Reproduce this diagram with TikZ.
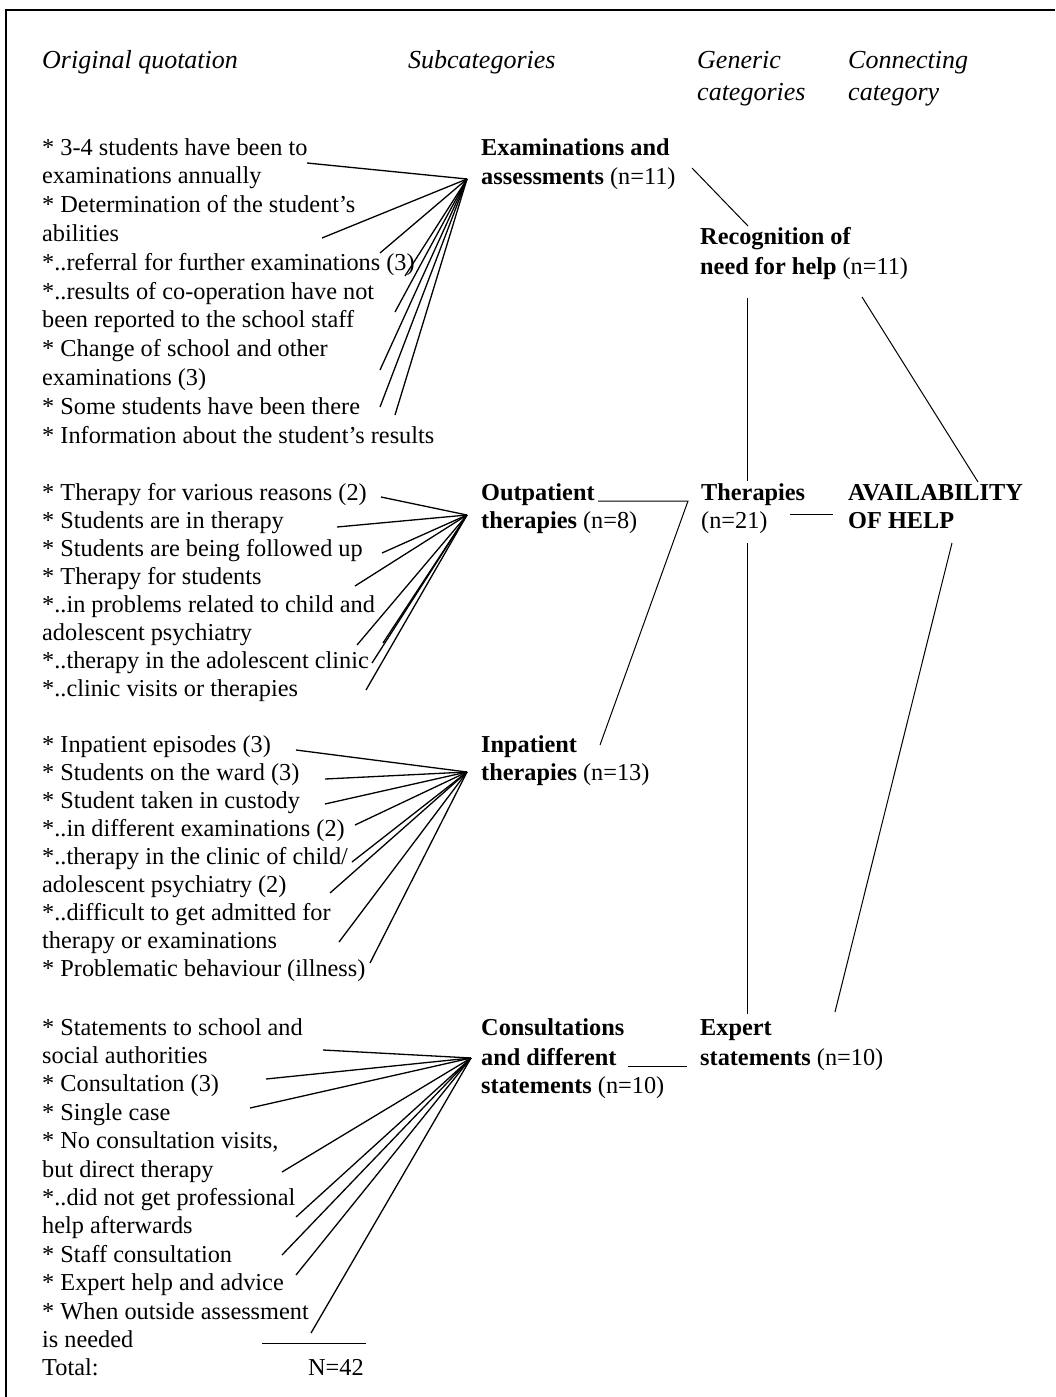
\documentclass[tikz,border=0pt]{standalone}
\usepackage{fontspec}
\setmainfont{Liberation Serif}
\newcommand\qfont{\fontsize{24.3}{28}\selectfont}
\newcommand\hfont{\fontsize{26}{28}\selectfont}
\tikzset{
  qt/.style={anchor=base west, inner sep=0pt, font=\qfont},
  cat/.style={anchor=base west, inner sep=0pt, font=\qfont\bfseries},
  hd/.style={anchor=base west, inner sep=0pt, font=\hfont\itshape},
  fan/.style={line width=1.3pt},
  link/.style={line width=1pt},
  frame/.style={line width=1.6pt}
}
\begin{document}
\begin{tikzpicture}[x=1pt,y=-1pt]
\useasboundingbox (0,0) rectangle (1055,1397);
\coordinate (fbl) at (6,1397);
\coordinate (ftl) at (6,10);
\coordinate (ftr) at (1055,10);
\draw[frame] (fbl) -- (ftl) -- (ftr);

% headers
\node[hd] (h-orig) at (42,69) {Original quotation};
\node[hd] (h-sub) at (408,69) {Subcategories};
\node[hd] (h-gen1) at (697,69) {Generic};
\node[hd] (h-gen2) at (697,100) {categories};
\node[hd] (h-con1) at (848,69) {Connecting};
\node[hd] (h-con2) at (848,100) {category};

% group 1
\node[qt] (a1) at (42,155) {* 3-4 students have been to};
\node[qt] (a2) at (42,183.8) {examinations annually};
\node[qt] (a3) at (42,212.6) {* Determination of the student’s};
\node[qt] (a4) at (42,241.4) {abilities};
\node[qt] (a5) at (42,270.2) {*..referral for further examinations (3)};
\node[qt] (a6) at (42,299) {*..results of co-operation have not};
\node[qt] (a7) at (42,327.8) {been reported to the school staff};
\node[qt] (a8) at (42,356.6) {* Change of school and other};
\node[qt] (a9) at (42,385.4) {examinations (3)};
\node[qt] (a10) at (42,414.2) {* Some students have been there};
\node[qt] (a11) at (42,443) {* Information about the student’s results};

% group 2
\node[qt] (b1) at (42,500) {* Therapy for various reasons (2)};
\node[qt] (b2) at (42,528) {* Students are in therapy};
\node[qt] (b3) at (42,556) {* Students are being followed up};
\node[qt] (b4) at (42,584) {* Therapy for students};
\node[qt] (b5) at (42,612) {*..in problems related to child and};
\node[qt] (b6) at (42,640) {adolescent psychiatry};
\node[qt] (b7) at (42,668) {*..therapy in the adolescent clinic};
\node[qt] (b8) at (42,696) {*..clinic visits or therapies};

% group 3
\node[qt] (c1) at (42,752) {* Inpatient episodes (3)};
\node[qt] (c2) at (42,780) {* Students on the ward (3)};
\node[qt] (c3) at (42,808) {* Student taken in custody};
\node[qt] (c4) at (42,836) {*..in different examinations (2)};
\node[qt] (c5) at (42,864) {*..therapy in the clinic of child/};
\node[qt] (c6) at (42,892) {adolescent psychiatry (2)};
\node[qt] (c7) at (42,920) {*..difficult to get admitted for};
\node[qt] (c8) at (42,948) {therapy or examinations};
\node[qt] (c9) at (42,976) {* Problematic behaviour (illness)};

% group 4
\node[qt] (d1) at (42,1035) {* Statements to school and};
\node[qt] (d2) at (42,1063.4) {social authorities};
\node[qt] (d3) at (42,1091.8) {* Consultation (3)};
\node[qt] (d4) at (42,1120.2) {* Single case};
\node[qt] (d5) at (42,1148.6) {* No consultation visits,};
\node[qt] (d6) at (42,1177) {but direct therapy};
\node[qt] (d7) at (42,1205.4) {*..did not get professional};
\node[qt] (d8) at (42,1233.8) {help afterwards};
\node[qt] (d9) at (42,1262.2) {* Staff consultation};
\node[qt] (d10) at (42,1290.6) {* Expert help and advice};
\node[qt] (d11) at (42,1319) {* When outside assessment};
\node[qt] (d12) at (42,1347.4) {is needed};
\node[qt] (d13) at (42,1375.8) {Total:};
\node[qt] (tot) at (308,1375.8) {N=42};
\coordinate (tl1) at (262,1343);
\coordinate (tl2) at (366,1343);
\draw[link] (tl1) -- (tl2);

% subcategories
\node[cat] (s1a) at (481,155) {Examinations and};
\node[cat] (s1b) at (481,184) {assessments \mdseries(n=11)};
\node[cat] (s2a) at (481,500) {Outpatient};
\node[cat] (s2b) at (481,528) {therapies \mdseries(n=8)};
\node[cat] (s3a) at (481,752) {Inpatient};
\node[cat] (s3b) at (481,780) {therapies \mdseries(n=13)};
\node[cat] (s4a) at (481,1035) {Consultations};
\node[cat] (s4b) at (481,1065) {and different};
\node[cat] (s4c) at (481,1093) {statements \mdseries(n=10)};

% generic categories
\node[cat] (g1a) at (700,244) {Recognition of};
\node[cat] (g1b) at (700,274) {need for help \mdseries(n=11)};
\node[cat] (g2a) at (701,500) {Therapies};
\node[cat] (g2b) at (701,528) {\mdseries(n=21)};
\node[cat] (g3a) at (700,1035) {Expert};
\node[cat] (g3b) at (700,1065) {statements \mdseries(n=10)};

% connecting category
\node[cat] (k1) at (848,500) {AVAILABILITY};
\node[cat] (k2) at (848,528) {OF HELP};

% fan 1
\coordinate (h1) at (467,179);
\foreach \x/\y [count=\i] in {307/163,322/238,380/253,405/276,395/312,380/370,380/407,395/415}
  \coordinate (e1-\i) at (\x,\y);
\foreach \i in {1,...,8} \draw[fan] (e1-\i) -- (h1);

% fan 2
\coordinate (h2) at (467,515);
\foreach \x/\y [count=\i] in {381/497,337/527,382/553,355/586,357/645,383/643,372/663,366/690}
  \coordinate (e2-\i) at (\x,\y);
\foreach \i in {1,...,8} \draw[fan] (e2-\i) -- (h2);

% fan 3
\coordinate (h3) at (467,772);
\foreach \x/\y [count=\i] in {296/750,325/779,325/804,355/825,352/862,330/893,339/942,370/963}
  \coordinate (e3-\i) at (\x,\y);
\foreach \i in {1,...,8} \draw[fan] (e3-\i) -- (h3);

% fan 4
\coordinate (h4) at (471,1058);
\foreach \x/\y [count=\i] in {323/1050,266/1079,250/1108,282/1172,296/1217,282/1255,296/1275,311/1333}
  \coordinate (e4-\i) at (\x,\y);
\foreach \i in {1,...,8} \draw[fan] (e4-\i) -- (h4);

% right connectors
\coordinate (p1) at (692,168);
\coordinate (p2) at (748,226);
\draw[link] (p1) -- (p2);
\coordinate (p3) at (747,298);
\coordinate (p4) at (747,481);
\draw[link] (p3) -- (p4);
\coordinate (p5) at (862,297);
\coordinate (p6) at (978,482);
\draw[link] (p5) -- (p6);
\coordinate (p7) at (598,501);
\coordinate (p8) at (688,501);
\coordinate (p9) at (600,745);
\draw[link] (p7) -- (p8) -- (p9);
\coordinate (p10) at (790,514);
\coordinate (p11) at (833,514);
\draw[link] (p10) -- (p11);
\coordinate (p12) at (747,543);
\coordinate (p13) at (747,1014);
\draw[link] (p12) -- (p13);
\coordinate (p14) at (952,543);
\coordinate (p15) at (835,1012);
\draw[link] (p14) -- (p15);
\coordinate (p16) at (628,1066);
\coordinate (p17) at (687,1066);
\draw[link] (p16) -- (p17);
\end{tikzpicture}
\end{document}
